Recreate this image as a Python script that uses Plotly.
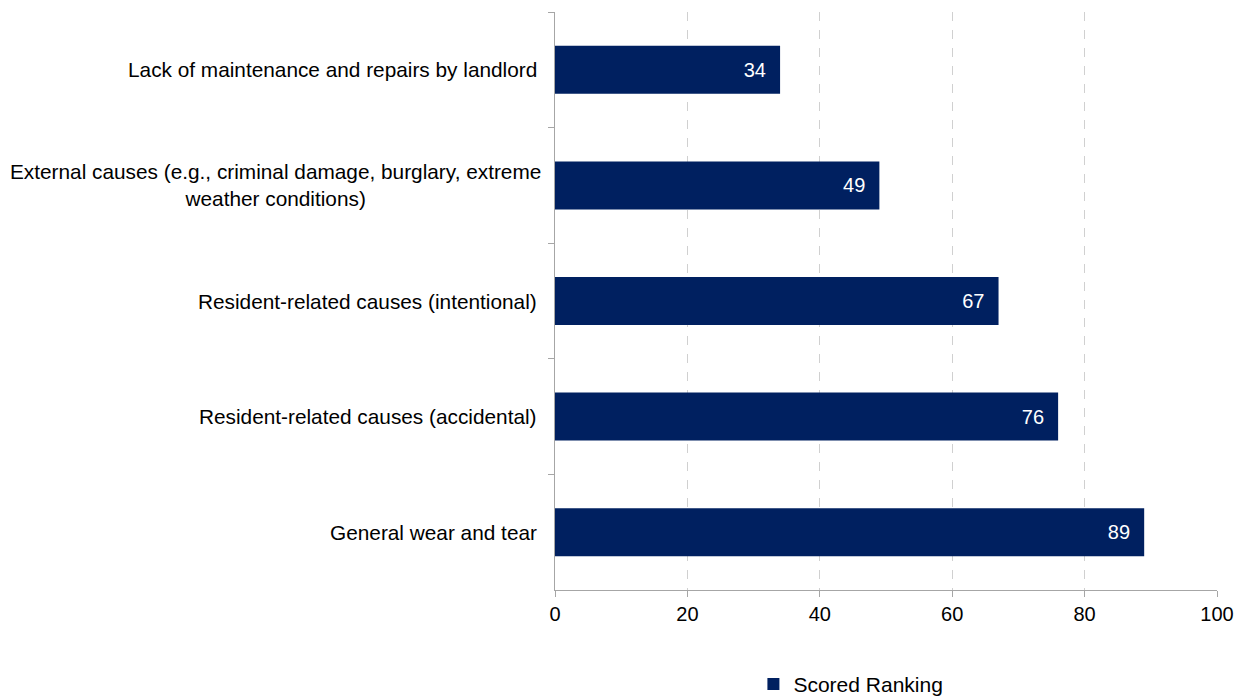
import plotly.graph_objects as go

categories = [
    "Lack of maintenance and repairs by landlord",
    "External causes (e.g., criminal damage, burglary, extreme<br>weather conditions)",
    "Resident-related causes (intentional)",
    "Resident-related causes (accidental)",
    "General wear and tear",
]
values = [34, 49, 67, 76, 89]
series_name = "Scored Ranking"
x_ticks = [0, 20, 40, 60, 80, 100]

FONT = "Liberation Sans, Arial, sans-serif"
NAVY = "#002060"
AXIS = "#a6a6a6"

fig = go.Figure()
fig.add_trace(go.Bar(
    y=categories, x=values, orientation="h", name=series_name,
    marker=dict(color=NAVY, line=dict(width=0)),
    text=[f"{v}\u00a0\u00a0" for v in values], textposition="inside", insidetextanchor="end",
    textfont=dict(color="white", size=20, family=FONT),
    showlegend=True,
))

for c in categories:
    fig.add_annotation(
        x=0, xref="paper", y=c, yref="y", text=c, showarrow=False,
        xanchor="right", yanchor="middle", align="center",
        xshift=-12 if "<br>" in c else -16,
        font=dict(size=20.8, family=FONT, color="#000000"),
    )

fig.update_layout(
    width=1250, height=698,
    margin=dict(l=547, r=41, t=4, b=116, autoexpand=False),
    paper_bgcolor="white", plot_bgcolor="white",
    font=dict(family=FONT, size=20, color="#000000"),
    bargap=0.585,
    legend=dict(orientation="h", x=0.447, xanchor="center", yref="container",
                y=0.031, yanchor="middle",
                font=dict(size=21, family=FONT), itemsizing="constant"),
    uniformtext=dict(mode="show", minsize=20),
)
fig.update_xaxes(
    range=[0, 100], tickvals=x_ticks, showgrid=True, gridcolor="#d0d0d0", griddash="dash",
    gridwidth=1, showline=True, linecolor=AXIS, linewidth=1, ticks="outside", ticklen=6,
    tickcolor=AXIS, zeroline=False, tickfont=dict(size=20, family=FONT),
)
fig.update_yaxes(
    autorange="reversed", showticklabels=False, showline=True, linecolor=AXIS, linewidth=1,
    ticks="outside", ticklen=6, tickcolor=AXIS, tickson="boundaries", showgrid=False,
)
fig.write_html("out.html")
